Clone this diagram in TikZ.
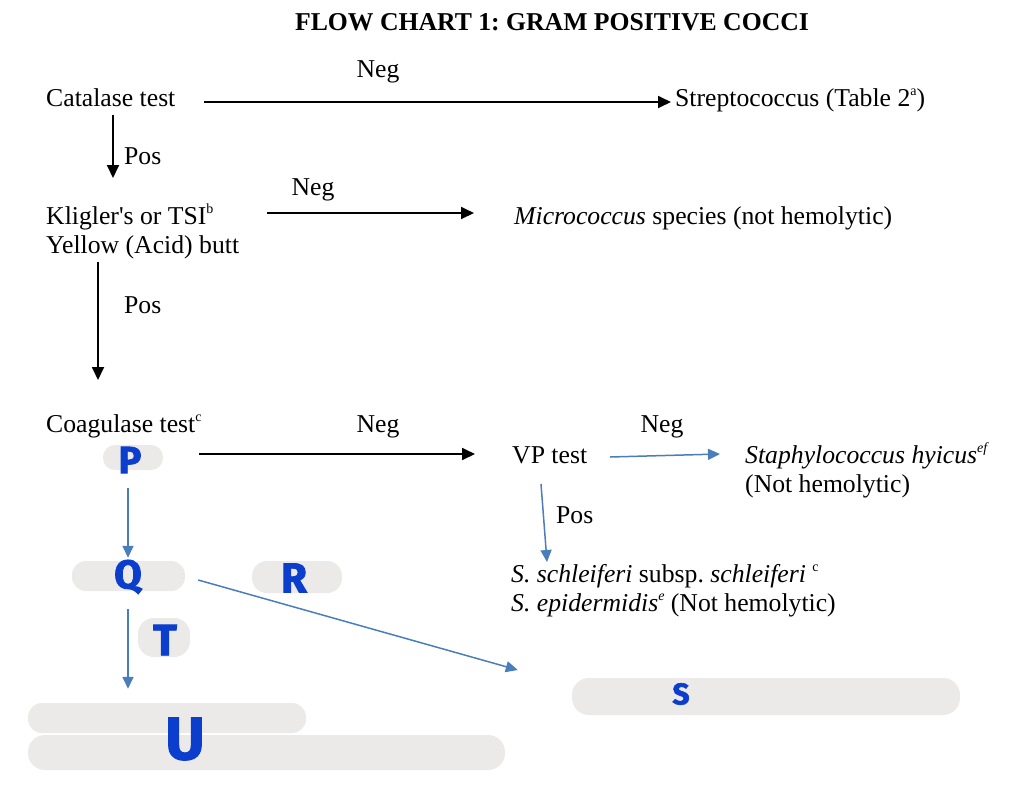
\documentclass[tikz,border=0pt]{standalone}
\usepackage{fontspec}
\setmainfont{Liberation Serif}
\newfontfamily\hand{Fira Sans}[BoldFeatures={FakeBold=2}]
\usetikzlibrary{arrows.meta}
\definecolor{arrowblue}{RGB}{74,126,187}
\definecolor{handblue}{RGB}{12,62,205}
\definecolor{smudge}{RGB}{235,234,232}
\newcommand\supx[1]{\raisebox{0.42em}{\fontsize{14}{14}\selectfont #1}}
\frenchspacing
\tikzset{
  txt/.style={inner sep=0pt, font=\fontsize{25.7}{30}\selectfont, anchor=base west},
  lbl/.style={txt, anchor=base},
  blackarrow/.style={line width=1.8pt, -{Triangle[length=13pt,width=12pt]}},
  bluearrow/.style={draw=arrowblue, line width=1.5pt, -{Triangle[length=12pt,width=11pt]}},
  blob/.style n args={3}{fill=smudge, draw=none, inner sep=0pt, minimum width=#1, minimum height=#2, rounded corners=#3},
  hw/.style={inner sep=0pt, text=handblue, font={\hand\bfseries\fontsize{#1}{#1}\selectfont}}
}
\begin{document}
\begin{tikzpicture}[x=1pt,y=-1pt]
\fill[white] (0,0) rectangle (1021,788);
\useasboundingbox (0,0) rectangle (1021,788);

% texts
\node[lbl, font=\fontsize{25.7}{30}\selectfont\bfseries] (title) at (552,30) {FLOW CHART 1: GRAM POSITIVE COCCI};
\node[lbl] (neg1) at (378,77) {Neg};
\node[txt] (catalase) at (46,106) {Catalase test};
\node[txt] (strep) at (675,106) {Streptococcus (Table 2\supx{a})};
\node[txt] (pos1) at (124,164) {Pos};
\node[lbl] (neg2) at (313,195) {Neg};
\node[txt] (kligler) at (46,224) {Kligler\textquotesingle s or TSI\supx{b}};
\node[txt] (yellow) at (46,253) {Yellow (Acid) butt};
\node[txt] (micro) at (514,224) {\textit{Micrococcus} species (not hemolytic)};
\node[txt] (pos2) at (124,313) {Pos};
\node[txt] (coag) at (46,432) {Coagulase test\supx{c}};
\node[lbl] (neg3) at (378,432) {Neg};
\node[txt] (vp) at (512,463) {VP test};
\node[lbl] (neg4) at (662,432) {Neg};
\node[txt] (staph) at (745,463) {\textit{Staphylococcus hyicus\supx{ef}}};
\node[txt] (staph2) at (745,492) {(Not hemolytic)};
\node[txt] (pos3) at (556,523) {Pos};
\node[txt] (schl) at (511,582) {\textit{S. schleiferi} subsp. \textit{schleiferi} \supx{c}};
\node[txt] (epid) at (511,611) {\textit{S. epidermidis\supx{e}} (Not hemolytic)};

% smudges
\node[blob={60pt}{25pt}{12pt}] (pB) at (133,457.5) {};
\node[blob={113pt}{30pt}{14pt}] (qB) at (128.5,576) {};
\node[blob={90pt}{32pt}{15pt}] (rB) at (297,577) {};
\node[blob={52pt}{39pt}{16pt}] (tB) at (164,637.5) {};
\node[blob={388pt}{37pt}{17pt}] (sB) at (766,696.5) {};
\node[blob={477pt}{35pt}{17pt}] (uB2) at (266.5,752.5) {};
\node[blob={278pt}{30pt}{14pt}] (uB) at (167,718) {};

% handwritten letters
\node[hw=38] (pL) at (130,460) {P};
\node[hw=40] (qL) at (128,577) {Q};
\node[hw=42] (rL) at (294,578) {R};
\node[hw=44] (tL) at (165,640) {T};
\node[hw=30] (sL) at (681,694) {S};
\node[hw=60] (uL) at (185,739) {U};

% black arrows
\draw[blackarrow] ([xshift=158pt,yshift=4pt]catalase.base west) -- ([xshift=-4pt,yshift=4pt]strep.base west);
\draw[blackarrow] ([xshift=67pt,yshift=-9pt]catalase.base west) -- ([xshift=67pt,yshift=46pt]kligler.base west);
\draw[blackarrow] ([xshift=221pt,yshift=11pt]kligler.base west) -- ([xshift=-40pt,yshift=11pt]micro.base west);
\draw[blackarrow] ([xshift=52pt,yshift=-9pt]yellow.base west) -- ([xshift=52pt,yshift=52pt]coag.base west);
\draw[blackarrow] ([xshift=153pt,yshift=-22pt]coag.base west) -- ([xshift=-37pt,yshift=9pt]vp.base west);

% blue arrows
\draw[bluearrow] ([xshift=98pt,yshift=6pt]vp.base west) -- ([xshift=-25pt,yshift=9pt]staph.base west);
\draw[bluearrow] ([xshift=29pt,yshift=-21pt]vp.base west) -- ([xshift=36pt,yshift=20pt]schl.base west);
\draw[bluearrow] ([xshift=-5pt,yshift=-18pt]pB.south) -- ([xshift=-0.5pt,yshift=3pt]qB.north);
\draw[bluearrow] ([xshift=13pt,yshift=-4pt]qB.east) -- ([xshift=-54pt,yshift=26.5pt]sB.west);
\draw[bluearrow] ([xshift=-0.5pt,yshift=-18pt]qB.south) -- ([xshift=-39pt,yshift=14pt]uB.north);
\end{tikzpicture}
\end{document}
